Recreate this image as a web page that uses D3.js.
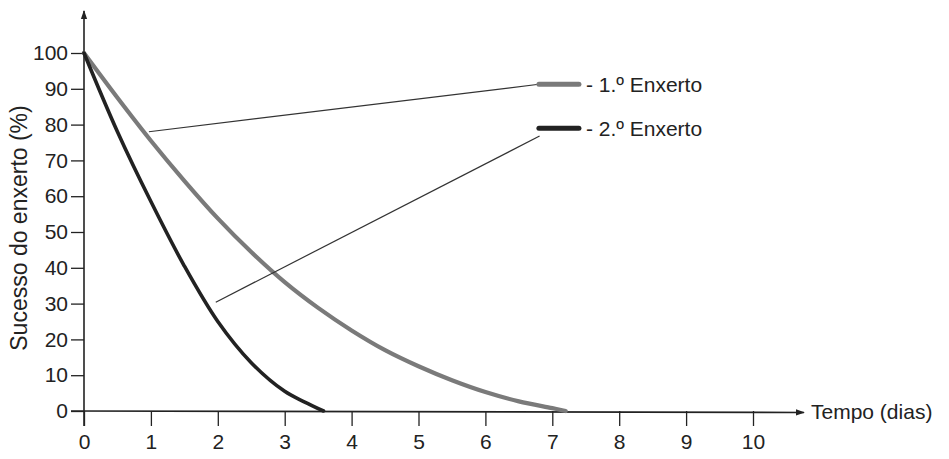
<!DOCTYPE html>
<html>
<head>
<meta charset="utf-8">
<script src="https://cdn.jsdelivr.net/npm/d3@7"></script>
<style>
  html, body { margin: 0; padding: 0; background: #fff; }
  svg { display: block; }
  text { font-family: "Liberation Sans", Arial, sans-serif; fill: #222; }
</style>
</head>
<body>
<svg id="chart" width="949" height="459"></svg>
<script>
// ---- data ----
const xTicks = [0, 1, 2, 3, 4, 5, 6, 7, 8, 9, 10];
const yTicks = [0, 10, 20, 30, 40, 50, 60, 70, 80, 90, 100];
const days1 = [0, 0.5, 1, 1.5, 2, 2.5, 3, 3.5, 4, 4.5, 5, 5.5, 6, 6.5, 7, 7.2];
const graft1 = [100, 87.5, 75.5, 64.3, 53.8, 44.4, 36, 28.8, 22.5, 17, 12.5, 8.6, 5.3, 2.7, 0.8, 0];
const days2 = [0, 0.5, 1, 1.5, 2, 2.5, 3, 3.3, 3.58];
const graft2 = [100, 78, 58.5, 40.5, 25, 13.5, 5.5, 2.5, 0];
const seriesNames = ["- 1.º Enxerto", "- 2.º Enxerto"];
const seriesColors = ["#7a7a7a", "#222222"];
// legend anchor & leader lines (data units)
const legendX = [6.8, 6.8];
const legendY = [91.3, 79];
const leaderFrom = [[0.97, 78], [1.97, 30.4]];
const leaderTo = [[6.77, 91.2], [6.81, 76.8]];
const xTitle = "Tempo (dias)";
const yTitle = "Sucesso do enxerto (%)";

// ---- scales ----
const svg = d3.select("#chart");
const x = d3.scaleLinear().domain([0, 10]).range([84, 753]);
const y = d3.scaleLinear().domain([0, 100]).range([411, 53]);
const FS = 21;

// axes
const gy = svg.append("g").attr("transform", `translate(${x(0)},0)`)
  .call(d3.axisLeft(y).tickValues(yTicks).tickSize(13).tickPadding(3).tickFormat(d3.format("d")));
gy.select(".domain").remove();
gy.selectAll(".tick line").attr("stroke", "#222").attr("stroke-width", 1.3);
gy.selectAll(".tick text").attr("font-size", FS).style("font-family", '"Liberation Sans",Arial,sans-serif').attr("fill", "#222");

const gx = svg.append("g").attr("transform", `translate(0,${y(0)})`)
  .call(d3.axisBottom(x).tickValues(xTicks).tickSize(15).tickPadding(8).tickFormat(d3.format("d")));
gx.select(".domain").remove();
gx.selectAll(".tick line").attr("stroke", "#222").attr("stroke-width", 1.3);
gx.selectAll(".tick text").attr("font-size", FS).style("font-family", '"Liberation Sans",Arial,sans-serif').attr("fill", "#222");

// axis lines with arrows
const defs = svg.append("defs");
defs.append("marker").attr("id", "arrow").attr("viewBox", "0 0 10 10")
  .attr("refX", 9).attr("refY", 5).attr("markerWidth", 9).attr("markerHeight", 9)
  .attr("markerUnits", "userSpaceOnUse").attr("orient", "auto")
  .append("path").attr("d", "M0,1.5 L10,5 L0,8.5 Z").attr("fill", "#222");

svg.append("line").attr("x1", x(0)).attr("y1", y(0) + 15).attr("x2", x(0)).attr("y2", 11)
  .attr("stroke", "#222").attr("stroke-width", 1.6).attr("marker-end", "url(#arrow)");
svg.append("line").attr("x1", x(0) - 13).attr("y1", y(0)).attr("x2", 804).attr("y2", y(0) + 1.5)
  .attr("stroke", "#222").attr("stroke-width", 1.6).attr("marker-end", "url(#arrow)");

// axis titles
svg.append("text").attr("x", 811).attr("y", y(0) + 8).attr("font-size", FS).text(xTitle);
svg.append("text").attr("transform", `translate(27,228) rotate(-90)`).attr("text-anchor", "middle")
  .attr("font-size", 23).text(yTitle);

// curves
const line = d3.line().x(d => x(d[0])).y(d => y(d[1])).curve(d3.curveCatmullRom.alpha(0.5));
const data1 = days1.map((d, i) => [d, graft1[i]]);
const data2 = days2.map((d, i) => [d, graft2[i]]);
svg.append("path").datum(data1).attr("d", line).attr("fill", "none")
  .attr("stroke", seriesColors[0]).attr("stroke-width", 4.2).attr("stroke-linecap", "round");
svg.append("path").datum(data2).attr("d", line).attr("fill", "none")
  .attr("stroke", seriesColors[1]).attr("stroke-width", 3.6).attr("stroke-linecap", "round");

// leader lines
leaderFrom.forEach((f, i) => {
  svg.append("line").attr("x1", x(f[0])).attr("y1", y(f[1]))
    .attr("x2", x(leaderTo[i][0])).attr("y2", y(leaderTo[i][1]))
    .attr("stroke", "#333").attr("stroke-width", 1.2);
});

// legend
seriesNames.forEach((name, i) => {
  const lx = x(legendX[i]), ly = y(legendY[i]);
  svg.append("line").attr("x1", lx).attr("y1", ly).attr("x2", lx + 40).attr("y2", ly)
    .attr("stroke", seriesColors[i]).attr("stroke-width", 5).attr("stroke-linecap", "round");
  svg.append("text").attr("x", lx + 47).attr("y", ly + 8).attr("font-size", FS).text(name);
});
</script>
</body>
</html>
